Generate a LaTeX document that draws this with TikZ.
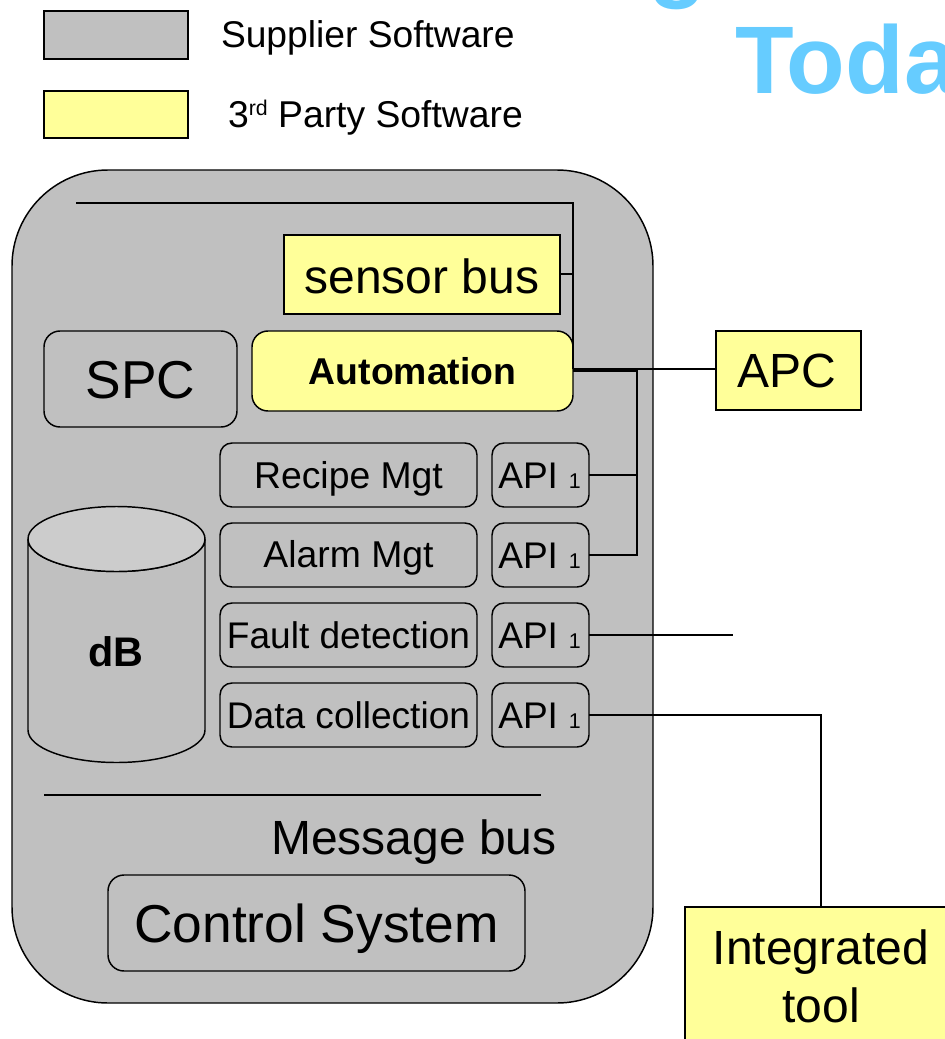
\documentclass[tikz,border=0pt]{standalone}
\usepackage{fontspec}
\setmainfont{Liberation Sans}
\usetikzlibrary{shapes.geometric}
\definecolor{gr}{HTML}{C0C0C0}
\definecolor{grl}{HTML}{CCCCCC}
\definecolor{ye}{HTML}{FFFF99}
\definecolor{ttl}{HTML}{66CCFF}
\newcommand{\fs}[1]{\fontsize{#1}{#1}\selectfont}
\tikzset{
 x=0.75pt,y=-0.75pt,
 box/.style={draw=black,line width=1.1pt,inner sep=0pt,outer sep=0pt,anchor=north west,align=center,font=\fs{28}},
 sq/.style={box},
 rnd/.style={box,rounded corners=12pt},
 rm/.style={box,rounded corners=9pt},
 wire/.style={draw=black,line width=1.1pt},
 txt/.style={inner sep=0pt,outer sep=0pt,text=black},
}
\newcommand{\bx}[8]{% style, fill, name, x1,y1,x2,y2, text
 \pgfmathsetmacro{\bw}{(#6-#4)*0.75}\pgfmathsetmacro{\bh}{(#7-#5)*0.75}
 \node[#1,fill=#2,minimum width=\bw pt,minimum height=\bh pt] (#3) at (#4,#5) {#8};}
\newcommand{\apitxt}{\fs{27.8}\hspace*{-1.5pt}API\,{\fs{16}\hspace*{3.5pt}1}}
\newcommand{\lowr}[2]{\raisebox{-#1pt}[\height][\depth]{#2}}
\begin{document}
\begin{tikzpicture}
\useasboundingbox (0,0) rectangle (945,1039);
\begin{scope}
\clip (0,0) rectangle (945,1039);
% title
\node[anchor=base west,inner sep=0pt,text=ttl,font=\fs{72}\bfseries] (today) at (735,93) {Today};
\node[anchor=base west,inner sep=0pt,text=ttl,font=\fs{72}\bfseries] (gg) at (648,-11) {g};
% legend
\bx{sq}{gr}{leg1}{44}{11}{188}{59}{}
\bx{sq}{ye}{leg2}{44}{91}{188}{138}{}
\node[txt,anchor=base west,font=\fs{27.9}] (l1) at (221,47) {Supplier Software};
\node[txt,anchor=base west,font=\fs{28}] (l2) at (228,127) {3\raisebox{0.6ex}{\fs{16}rd} Party Software};
% main
\node[box,fill=gr,rounded corners=72pt,minimum width=480.75pt,minimum height=624.75pt] (main) at (12,170) {};
% wires top
\coordinate (t0) at (76,203);
\coordinate (t1) at (573,203);
\bx{sq}{ye}{sensor}{284}{235}{560}{314}{\lowr{1.5}{\fs{36}sensor bus}}
\bx{rnd}{gr}{spc}{44}{331}{237}{427}{\lowr{1}{\fs{40}SPC}}
\bx{rnd}{ye}{auto}{252}{331}{573}{411}{\fs{28}\bfseries Automation}
\bx{sq}{ye}{apc}{716}{331}{861}{410}{\fs{36}\hspace*{-2pt}APC}
\draw[wire] (t0) -- (t1) -- (573,369);
\draw[line width=1.5pt] ([yshift=0.75pt]sensor.east) -- ([yshift=0.75pt]sensor.east -| t1);
\bx{rm}{gr}{r1}{220}{443}{477}{507}{\lowr{3}{\fs{28}Recipe Mgt}}
\bx{rm}{gr}{r2}{220}{523}{477}{587}{\lowr{2.25}{\fs{28}Alarm Mgt}}
\bx{rm}{gr}{r3}{220}{603}{477}{667}{\fs{27.8}Fault detection}
\bx{rm}{gr}{r4}{220}{683}{477}{747}{\fs{27.8}Data collection}
\bx{rm}{gr}{a1}{492}{443}{589}{507}{\lowr{0.5}{\apitxt}}
\bx{rm}{gr}{a2}{492}{523}{589}{587}{\lowr{0.5}{\apitxt}}
\bx{rm}{gr}{a3}{492}{603}{589}{667}{\lowr{0.5}{\apitxt}}
\bx{rm}{gr}{a4}{492}{683}{589}{747}{\lowr{0.5}{\apitxt}}
\coordinate (j) at (637,371);
\coordinate (k) at (637,369);
\draw[wire] (auto.east |- k) -- (apc.west |- k);
\draw[line width=2.2pt] (auto.east |- j) -- (j) -- (a1.east -| j);
\draw[wire] (a1.east) -- (a1.east -| j);
\draw[wire] (a1.east -| j) -- (a2.east -| j) -- (a2.east);
\coordinate (f3) at (733,635);
\draw[wire] (a3.east) -- (f3);
% db
\path[fill=gr,draw=black,line width=1.1pt] (28,539) -- (28,730) arc[start angle=180,end angle=0,x radius=88.5,y radius=32.5] -- (205,539) arc[start angle=0,end angle=180,x radius=88.5,y radius=32.5];
\path[fill=grl,draw=black,line width=1.1pt] (116.5,539) ellipse[x radius=88.5,y radius=32.5];
\node[txt,font=\fs{31}\bfseries] (db) at (116,652) {dB};
% message bus
\coordinate (m0) at (44,795);
\coordinate (m1) at (541,795);
\draw[wire] (m0) -- (m1);
\node[txt,anchor=base,font=\fs{36}] (mb) at (414,854) {Message bus};
\bx{rnd}{gr}{ctrl}{108}{875}{525}{971}{\lowr{4.5}{\fs{40}Control System}}
% integrated
\bx{sq}{ye}{integ}{685}{907}{957}{1060}{}
\node[txt,anchor=base,font=\fs{36}] (i1) at (821,964) {Integrated};
\node[txt,anchor=base,font=\fs{36}] (i2) at (821,1022) {tool};
\draw[wire] (a4.east) -- (a4.east -| integ.north) -- (integ.north);
\end{scope}
\end{tikzpicture}
\end{document}
